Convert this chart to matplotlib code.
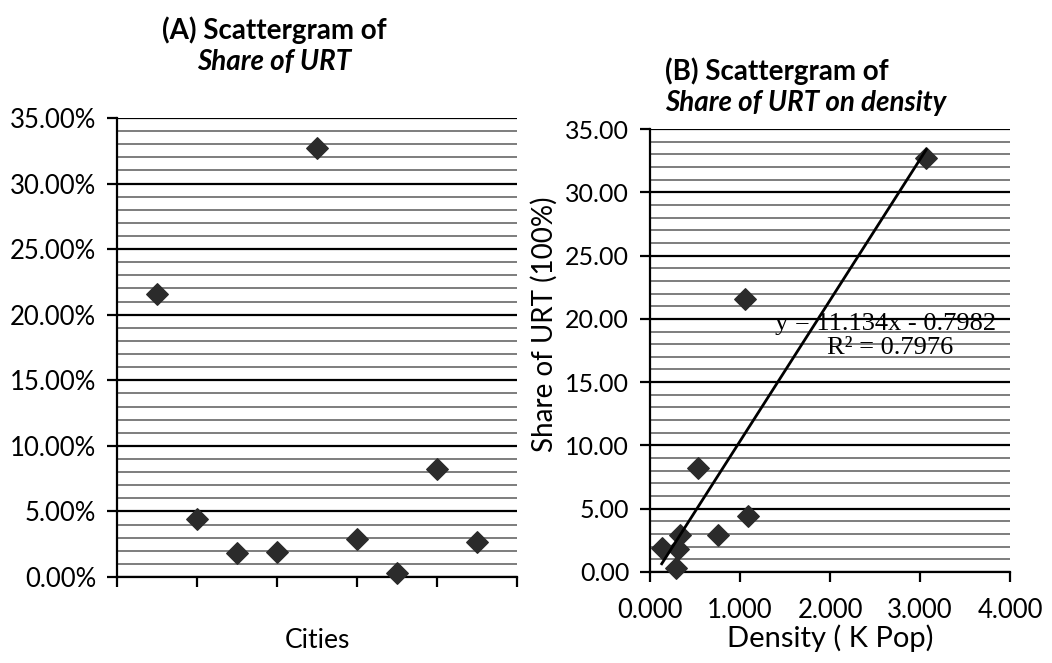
import matplotlib
matplotlib.use("Agg")
import matplotlib.pyplot as plt
from matplotlib.ticker import MultipleLocator, FuncFormatter
import numpy as np

# ---- data ----
city_index = [1, 2, 3, 4, 5, 6, 7, 8, 9]
share_urt_pct = [21.6, 4.4, 1.8, 1.9, 32.7, 2.9, 0.3, 8.2, 2.7]

density_k = [1.06, 1.09, 0.31, 0.13, 3.07, 0.75, 0.29, 0.53, 0.33]
share_urt = [21.6, 4.4, 1.8, 1.9, 32.7, 2.9, 0.3, 8.2, 2.9]

trend_slope = 11.134
trend_intercept = -0.7982
r_squared = 0.7976

title_a = ["(A) Scattergram of", "Share of URT"]
title_b = ["(B) Scattergram of", "Share of URT on density"]

FONT = "Lato"
plt.rcParams["font.family"] = [FONT, "DejaVu Sans"]

fig = plt.figure(figsize=(10.52, 6.63), dpi=100)
fig.patch.set_facecolor("white")

ax1 = fig.add_axes([0.1112, 0.1297, 0.3802, 0.6923])
ax2 = fig.add_axes([0.6179, 0.1373, 0.3422, 0.6681])

major_kw = dict(color="black", linewidth=1.6)
minor_kw = dict(color="#5a5a5a", linewidth=1.1)


def style(ax, ylabsize):
    ax.set_ylim(0, 35)
    ax.yaxis.set_major_locator(MultipleLocator(5))
    ax.yaxis.set_minor_locator(MultipleLocator(1))
    ax.grid(True, which="major", axis="y", **major_kw)
    ax.grid(True, which="minor", axis="y", **minor_kw)
    ax.set_axisbelow(True)
    for s in ["top", "right"]:
        ax.spines[s].set_visible(False)
    ax.spines["left"].set_linewidth(1.6)
    ax.spines["bottom"].set_linewidth(1.6)
    ax.tick_params(axis="y", which="major", length=7, width=1.6, direction="out",
                   labelsize=ylabsize, pad=8)
    ax.tick_params(axis="y", which="minor", length=0)
    ax.tick_params(axis="x", which="major", length=7, width=1.6, direction="out",
                   labelsize=18.5)


# ---- panel A ----
style(ax1, 18.5)
ax1.set_xlim(0, 10)
ax1.xaxis.set_major_locator(MultipleLocator(2))
ax1.xaxis.set_major_formatter(FuncFormatter(lambda v, p: ""))
ax1.yaxis.set_major_formatter(FuncFormatter(lambda v, p: f"{v:.2f}%"))
ax1.scatter(city_index, share_urt_pct, marker="D", s=120, color="#2b2b2b",
            zorder=5, clip_on=False)
ax1.set_xlabel("Cities", fontsize=19, labelpad=26)

fig.text(0.261, 0.955, title_a[0], ha="center", va="center", fontsize=20,
         fontweight="bold")
fig.text(0.261, 0.907, title_a[1], ha="center", va="center", fontsize=20,
         fontweight="bold", style="italic")

# ---- panel B ----
style(ax2, 18)
ax2.set_xlim(0, 4)
ax2.xaxis.set_major_locator(MultipleLocator(1))
ax2.xaxis.set_major_formatter(FuncFormatter(lambda v, p: f"{v:.3f}"))
ax2.yaxis.set_major_formatter(FuncFormatter(lambda v, p: f"{v:.2f}"))
ax2.tick_params(axis="x", pad=12)
ax2.scatter(density_k, share_urt, marker="D", s=120, color="#2b2b2b",
            zorder=5, clip_on=False)
xs = np.array([min(density_k), max(density_k)])
ax2.plot(xs, trend_slope * xs + trend_intercept, color="black", linewidth=2,
         zorder=6)
ax2.text(2.62, 19.6, f"y = {trend_slope}x - {-trend_intercept}", ha="center",
         va="center", fontsize=19, family="Liberation Serif", zorder=7)
ax2.text(2.67, 17.7, f"R² = {r_squared}", ha="center", va="center", fontsize=19,
         family="Liberation Serif", zorder=7)
ax2.set_xlabel("Density ( K Pop)", fontsize=21, labelpad=1)
ax2.set_ylabel("Share of URT (100%)", fontsize=20)
ax2.yaxis.set_label_coords(-0.255, 0.56)

fig.text(0.632, 0.893, title_b[0], ha="left", va="center", fontsize=20,
         fontweight="bold")
fig.text(0.632, 0.845, title_b[1], ha="left", va="center", fontsize=20,
         fontweight="bold", style="italic")

fig.savefig("out.png", dpi=100, facecolor="white")
